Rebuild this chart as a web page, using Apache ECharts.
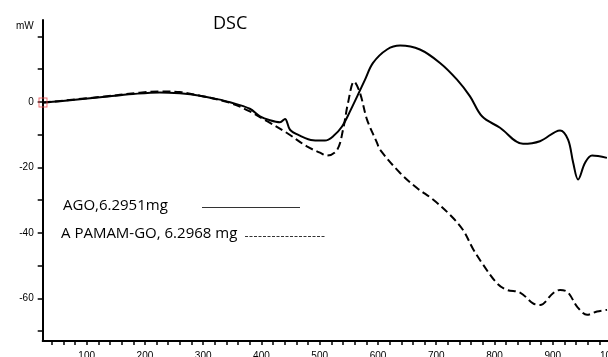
<!DOCTYPE html>
<html>
<head>
<meta charset="utf-8">
<script src="https://cdn.jsdelivr.net/npm/echarts@6/dist/echarts.min.js"></script>
<style>
  html, body { margin: 0; padding: 0; background: #fff; }
  #chart { width: 608px; height: 357px; }
</style>
</head>
<body>
<div id="chart"></div>
<script>
// Temperature (°C) and heat flow (mW) for the two DSC runs
const agoTemp = [25, 54, 123, 179.5, 225.8, 260, 294.5, 320, 346, 380, 397.5, 414.7, 431.8, 440.4, 449, 466, 488.5, 509, 523, 538.3, 552, 565.7, 577.8, 591.5, 615.5, 638, 672, 706.5, 735.7, 758, 778.6, 809.5, 849, 878, 912.5, 926.3, 935, 943.5, 955.5, 967.5, 993];
const agoFlow = [-0.2, 0.2, 1.4, 2.4, 2.9, 2.6, 1.9, 1.0, -0.1, -2.1, -4.4, -5.6, -6.2, -5.2, -8.5, -10.3, -11.7, -11.8, -10.5, -7.5, -2.9, 2.2, 6.8, 11.9, 16.0, 17.2, 16.0, 11.9, 6.8, 1.7, -4.4, -7.9, -12.8, -12.0, -8.7, -11.5, -18.5, -23.7, -18.6, -16.4, -17.1];

const pamamTemp = [25, 123, 191.5, 226, 260, 294.5, 346, 380, 409.6, 443.8, 478, 500.5, 512.5, 530, 540, 548.6, 559, 569, 581.2, 598.4, 603.5, 638, 667, 694.5, 723.7, 746, 763.2, 778.6, 804.4, 821.5, 843.9, 866.2, 878.2, 900.5, 912.5, 926.3, 941.7, 958.9, 976, 993.2];
const pamamFlow = [-0.2, 1.5, 2.8, 3.2, 3.0, 1.9, -0.3, -2.9, -5.9, -9.5, -13.6, -15.5, -16.4, -14.6, -8.5, -0.3, 6.2, 2.8, -5.4, -12.5, -14.6, -21.7, -26.3, -29.8, -34.5, -39.1, -44.9, -49.2, -55.4, -57.4, -58.2, -61.5, -62.0, -58.4, -57.4, -58.2, -62.5, -65.0, -64.0, -63.5];

// Axis ticks and labels
const xTickValues = [40, 60, 80, 100, 120, 140, 160, 180, 200, 220, 240, 260, 280, 300, 320, 340, 360, 380, 400, 420, 440, 460, 480, 500, 520, 540, 560, 580, 600, 620, 640, 660, 680, 700, 720, 740, 760, 780, 800, 820, 840, 860, 880, 900, 920, 940, 960, 980, 1000];
const xLabelValues = [100, 200, 300, 400, 500, 600, 700, 800, 900, 1000];
const yTickValues = [20, 10, 0, -10, -20, -30, -40, -50, -60, -70];
const yLabelValues = [0, -20, -40, -60];

const seriesNames = ['AGO,6.2951mg', 'A PAMAM-GO, 6.2968 mg'];
const startPoint = [[25, -0.2]];

const zip = (xs, ys) => xs.map((x, i) => [x, ys[i]]);

const chart = echarts.init(document.getElementById('chart'), null, { renderer: 'canvas' });

const axisFont = { fontFamily: 'Liberation Sans', fontSize: 10, color: '#000' };

chart.setOption({
  animation: false,
  backgroundColor: '#fff',
  grid: { left: 42.7, right: -3, top: 20, bottom: 16, outerBoundsMode: 'none', containLabel: false },
  xAxis: {
    type: 'value',
    min: 24.5,
    max: 1000,
    axisLine: { show: true, onZero: false, lineStyle: { color: '#000', width: 2 } },
    axisTick: { show: true, length: 4, customValues: xTickValues, lineStyle: { color: '#000', width: 1.5 } },
    axisLabel: { show: true, customValues: xLabelValues, margin: 10, formatter: v => String(v), ...axisFont },
    splitLine: { show: false }
  },
  yAxis: {
    type: 'value',
    min: -73,
    max: 25,
    name: 'mW',
    nameLocation: 'end',
    nameGap: 0,
    nameTextStyle: { ...axisFont, align: 'right', verticalAlign: 'top', padding: [1, 9, 0, 0] },
    axisLine: { show: true, onZero: false, lineStyle: { color: '#000', width: 2 } },
    axisTick: { show: true, length: 5, customValues: yTickValues, lineStyle: { color: '#000', width: 1.5 } },
    axisLabel: { show: true, customValues: yLabelValues, margin: 9, ...axisFont },
    splitLine: { show: false }
  },
  graphic: [
    { type: 'text', left: 213, top: 15,
      style: { text: 'DSC', fontFamily: 'Open Sans', fontSize: 18, fill: '#000' } },
    { type: 'text', left: 63, top: 198,
      style: { text: seriesNames[0], fontFamily: 'Open Sans', fontSize: 15, fill: '#000' } },
    { type: 'line', shape: { x1: 202, y1: 207.5, x2: 300, y2: 207.5 },
      style: { stroke: '#333', lineWidth: 1 } },
    { type: 'text', left: 61, top: 226,
      style: { text: seriesNames[1], fontFamily: 'Open Sans', fontSize: 15, fill: '#000' } },
    { type: 'line', shape: { x1: 245, y1: 236.5, x2: 325, y2: 236.5 },
      style: { stroke: '#333', lineWidth: 1, lineDash: [3, 1.5] } }
  ],
  series: [
    {
      name: seriesNames[0],
      type: 'line',
      data: zip(agoTemp, agoFlow),
      smooth: 0.35,
      showSymbol: false,
      lineStyle: { color: '#000', width: 2 },
      z: 3
    },
    {
      name: seriesNames[1],
      type: 'line',
      data: zip(pamamTemp, pamamFlow),
      smooth: 0.35,
      showSymbol: false,
      lineStyle: { color: '#000', width: 2, type: [8, 4] },
      z: 2
    },
    {
      name: 'start',
      type: 'scatter',
      data: startPoint,
      symbol: 'rect',
      symbolSize: [8, 9],
      itemStyle: { color: 'rgba(0,0,0,0)', borderColor: '#e8474a', borderWidth: 1 },
      z: 4
    }
  ]
});
</script>
</body>
</html>
